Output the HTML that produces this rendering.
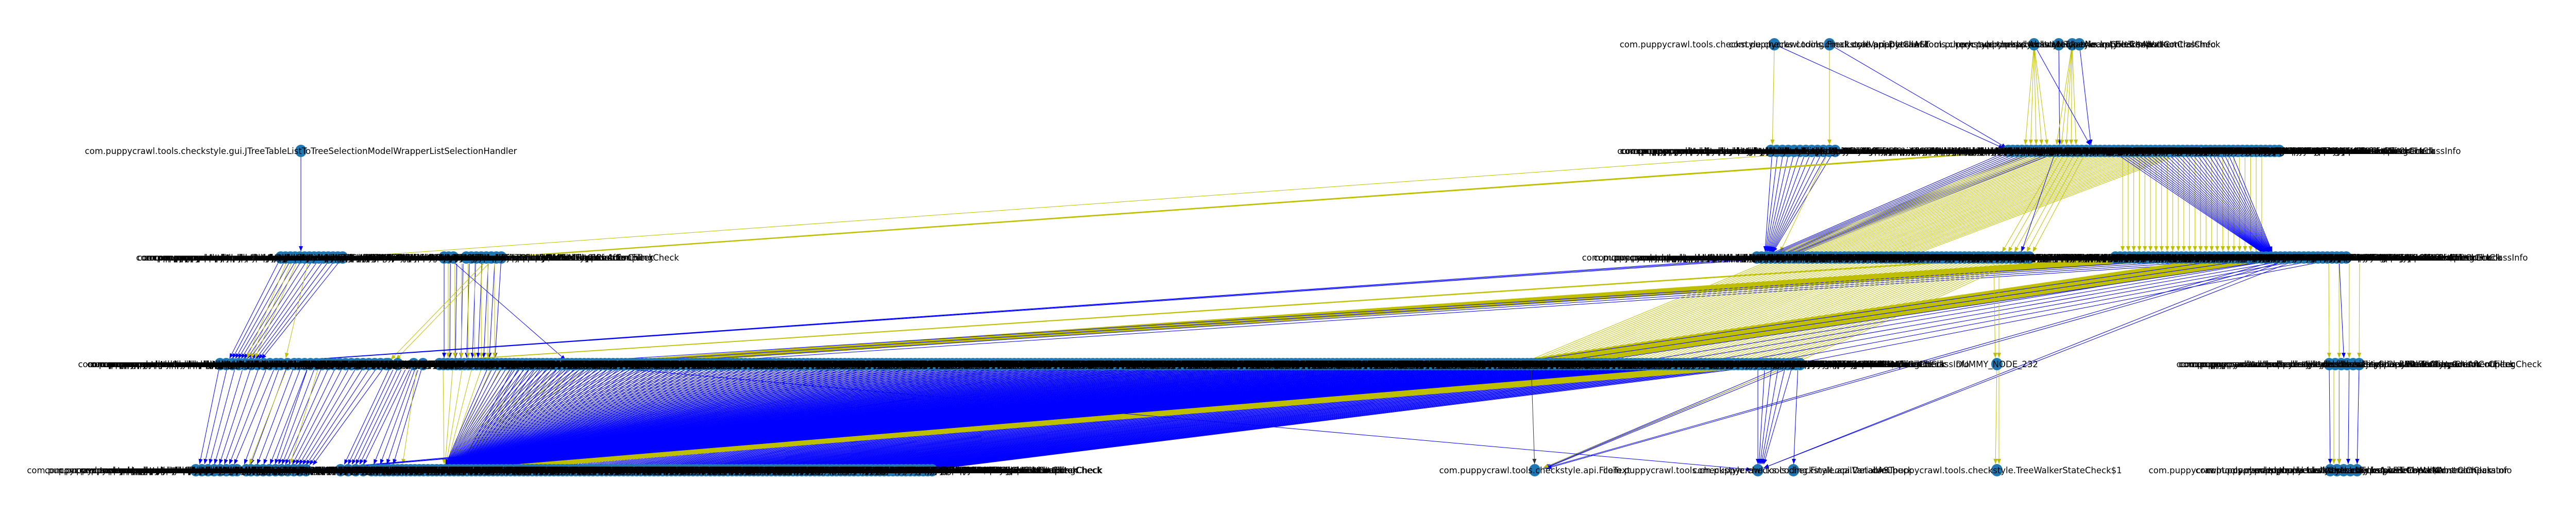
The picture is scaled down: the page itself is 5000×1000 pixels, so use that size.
<!DOCTYPE html>
<html><head><meta charset="utf-8"><title>Dependency graph</title>
<style>
html,body{margin:0;padding:0;background:#fff;}
svg{display:block;}
text{font-family:"DejaVu Sans","Liberation Sans",sans-serif;font-size:16.5px;fill:#000;}
</style></head>
<body>
<svg id="chart" width="5000" height="1000" viewBox="0 0 5000 1000" xmlns="http://www.w3.org/2000/svg">
<defs></defs>
<g id="edges"></g>
<g id="nodes"></g>
<g id="labels"></g>
</svg>
<script>
// ---- data ----
const rowLevels = [0, 1, 2, 3, 4];
const rowY = [86, 293, 500, 707, 913];
// node clusters: [row, startX, endX, count]
const nodeClusters = [
 [0,3444,3444,1],[0,3551,3551,1],[0,3948,3948,1],[0,3996,3996,1],[0,4022,4022,1],[0,4036,4036,1],
 [1,584,584,1],[1,3437,3562,12],[1,3898,4424,60],
 [2,545,665,14],[2,862,880,3],[2,905,973,8],[2,3410,3939,60],[2,4106,4554,50],
 [3,427,536,10],[3,545,571,3],[3,580,750,16],[3,754,772,2],[3,803,821,2],[3,853,3494,330],[3,3876,3876,1],[3,4521,4579,6],
 [4,380,451,7],[4,460,478,2],[4,487,594,10],[4,661,705,4],[4,721,1809,130],[4,2979,2979,1],[4,3412,3412,1],[4,3481,3481,1],[4,3876,3876,1],[4,4523,4575,5]
];
// edge bundles: [fromRow, fromX0, fromX1, toRow, toX0, toX1, count, colorKey]
const edgeBundles = [
 [0,3444,3444,1,3440,3440,1,'y'],[0,3551,3551,1,3551,3551,1,'y'],[0,3444,3444,1,3900,3900,1,'b'],[0,3551,3551,1,3905,3905,1,'b'],
 [0,3948,3948,1,3930,3975,5,'y'],[0,3996,3996,1,3998,3998,1,'b'],[0,4022,4022,1,3990,4030,5,'y'],[0,4036,4036,1,4060,4060,1,'b'],[0,3948,3948,1,4063,4063,1,'b'],
 [1,584,584,2,584,584,1,'b'],
 [1,3440,3560,2,3425,3435,12,'b'],[1,3550,3555,2,3450,3450,1,'y'],
 [1,3560,3560,2,665,665,1,'y'],[1,3900,3930,2,955,975,4,'y'],
 [1,3898,4000,2,3420,3470,12,'b'],[1,3950,4250,2,3430,3700,40,'y'],[1,4000,4050,2,3880,3940,6,'y'],[1,3990,3990,2,3920,3920,1,'b'],
 [1,4120,4390,2,4120,4390,26,'y'],[1,4100,4330,2,4405,4415,30,'b'],
 [2,545,665,3,440,500,12,'b'],[2,560,580,3,475,490,3,'y'],[2,600,600,3,552,552,1,'y'],
 [2,862,973,3,862,960,10,'b'],[2,870,960,3,870,960,8,'y'],[2,870,870,3,1107,1107,1,'b'],[2,950,960,3,750,760,2,'y'],
 [2,3420,3470,3,470,480,3,'b'],[2,3900,3930,3,750,760,3,'y'],
 [2,4106,4300,3,1100,1250,60,'y'],[2,4300,4450,3,1050,1300,4,'b'],
 [2,3450,3930,3,2950,3480,60,'y'],[2,4420,4550,3,3150,3480,6,'b'],
 [2,4300,4450,3,2900,3050,30,'y'],[2,4350,4450,3,2920,3060,3,'b'],
 [2,3870,3880,3,3873,3880,2,'y'],[2,4520,4580,3,4521,4579,4,'y'],[2,4540,4540,3,4550,4550,1,'b'],
 [2,4450,4470,4,3412,3412,2,'b'],[2,4440,4460,4,2985,2990,2,'b'],
 [3,427,536,4,385,450,8,'b'],[3,545,600,4,470,520,5,'b'],[3,600,750,4,530,600,12,'b'],[3,560,570,4,480,480,1,'y'],[3,620,640,4,560,560,1,'y'],
 [3,760,800,4,663,700,6,'b'],[3,803,821,4,721,760,4,'b'],[3,810,810,4,780,780,1,'y'],
 [3,860,1150,4,862,878,16,'y'],
 [3,950,3400,4,860,885,260,'b'],[3,1000,3450,4,890,1800,220,'b'],
 [3,3350,3490,4,870,960,50,'y'],[3,2900,3000,4,594,610,3,'b'],
 [3,2972,2972,4,2979,2979,1,'k'],[3,3470,3490,4,2985,2990,3,'b'],[3,3480,3480,4,2984,2984,1,'y'],
 [3,1107,1107,4,3412,3412,1,'b'],[3,3412,3480,4,3412,3420,6,'b'],[3,3490,3490,4,3481,3481,1,'b'],
 [3,3876,3880,4,3873,3880,2,'y'],[3,4521,4579,4,4523,4575,4,'b'],[3,4530,4540,4,4530,4540,2,'y']
];
const labelNames = [
 "com.puppycrawl.tools.checkstyle.checks.coding.FinalLocalVariableCheck",
 "com.puppycrawl.tools.checkstyle.api.DetailAST",
 "com.puppycrawl.tools.checkstyle.checks.AbstractTypeAwareCheck$AbstractClassInfo",
 "com.puppycrawl.tools.checkstyle.api.FileContext",
 "com.puppycrawl.tools.checkstyle.checks.imports.ImportControlCheck",
 "com.puppycrawl.tools.checkstyle.TreeWalker",
 "com.puppycrawl.tools.checkstyle.checks.sizes.CheckNameComparator",
 "com.puppycrawl.tools.checkstyle.checks.javadoc.JavadocTypeCheck",
 "com.puppycrawl.tools.checkstyle.api.FileText",
 "com.puppycrawl.tools.checkstyle.checks.whitespace.NoWhitespaceAfterCheck",
 "com.puppycrawl.tools.checkstyle.filters.SuppressWithNearbyCommentFilter",
 "com.puppycrawl.tools.checkstyle.checks.metrics.ClassDataAbstractionCouplingCheck",
 "com.puppycrawl.tools.checkstyle.Checker",
 "com.puppycrawl.tools.checkstyle.checks.design.HideUtilityClassConstructorCheck",
 "com.puppycrawl.tools.checkstyle.checks.TodoCommentCheck"
];
const singleLabels = {
 "1_584":"com.puppycrawl.tools.checkstyle.gui.JTreeTableListToTreeSelectionModelWrapperListSelectionHandler",
 "3_3876":"DUMMY_NODE_232","4_3876":"com.puppycrawl.tools.checkstyle.TreeWalkerStateCheck$1",
 "4_2979":"com.puppycrawl.tools.checkstyle.api.FileText"
};
const colorMap = {b:'#0000ff', y:'#bfbf00', k:'#333333'};

// ---- scales ----
const xScale = v => v * 5000 / 5000;
const yScale = r => rowY[r];
const NS = 'http://www.w3.org/2000/svg';
const gE = document.getElementById('edges');
const gN = document.getElementById('nodes');
const gL = document.getElementById('labels');

const defs = document.querySelector('defs');
Object.keys(colorMap).forEach(k => {
  const m = document.createElementNS(NS,'marker');
  m.setAttribute('id','arr-'+k);
  m.setAttribute('markerUnits','userSpaceOnUse');
  m.setAttribute('markerWidth','10');m.setAttribute('markerHeight','10');
  m.setAttribute('refX','10');m.setAttribute('refY','4');
  m.setAttribute('orient','auto');
  
  
  const p = document.createElementNS(NS,'path');
  p.setAttribute('d','M0,0 L10,4 L0,8 Z');
  p.setAttribute('fill',colorMap[k]);
  m.appendChild(p);defs.appendChild(m);
});

edgeBundles.forEach(eb => {
  const [r1,a0,a1,r2,b0,b1,n,c] = eb;
  for (let i=0;i<n;i++){
    const t = n>1 ? i/(n-1) : 0;
    const x1 = xScale(a0+(a1-a0)*t), x2 = xScale(b0+(b1-b0)*t);
    const y1 = yScale(r1), y2 = yScale(r2);
    const dx=x2-x1, dy=y2-y1, L=Math.hypot(dx,dy);
    const f = 12/L;
    const ln = document.createElementNS(NS,'line');
    ln.setAttribute('x1',(x1+dx*f).toFixed(1));ln.setAttribute('y1',(y1+dy*f).toFixed(1));
    ln.setAttribute('x2',(x2-dx*f).toFixed(1));ln.setAttribute('y2',(y2-dy*f).toFixed(1));
    ln.setAttribute('stroke',colorMap[c]);ln.setAttribute('stroke-width','1');
    ln.setAttribute('marker-end','url(#arr-'+c+')');
    
    
    gE.appendChild(ln);
  }
});

let li = 0;
nodeClusters.forEach(nc => {
  const [r,s,e,n] = nc;
  for (let i=0;i<n;i++){
    const v = n>1 ? s+(e-s)*i/(n-1) : s;
    const cx = xScale(v), cy = yScale(r);
    const el = document.createElementNS(NS,'ellipse');
    el.setAttribute('cx',cx.toFixed(1));el.setAttribute('cy',cy);
    el.setAttribute('rx','11');el.setAttribute('ry','12');
    el.setAttribute('fill','#1f77b4');
    
    
    gN.appendChild(el);
    const tx = document.createElementNS(NS,'text');
    tx.setAttribute('x',cx.toFixed(1));tx.setAttribute('y',cy+6);
    tx.setAttribute('text-anchor','middle');
    const key = r+'_'+s;
    tx.textContent = (n===1 && singleLabels[key]) ? singleLabels[key] : labelNames[li++ % labelNames.length];
    
    
    gL.appendChild(tx);
  }
});
</script>
</body></html>
